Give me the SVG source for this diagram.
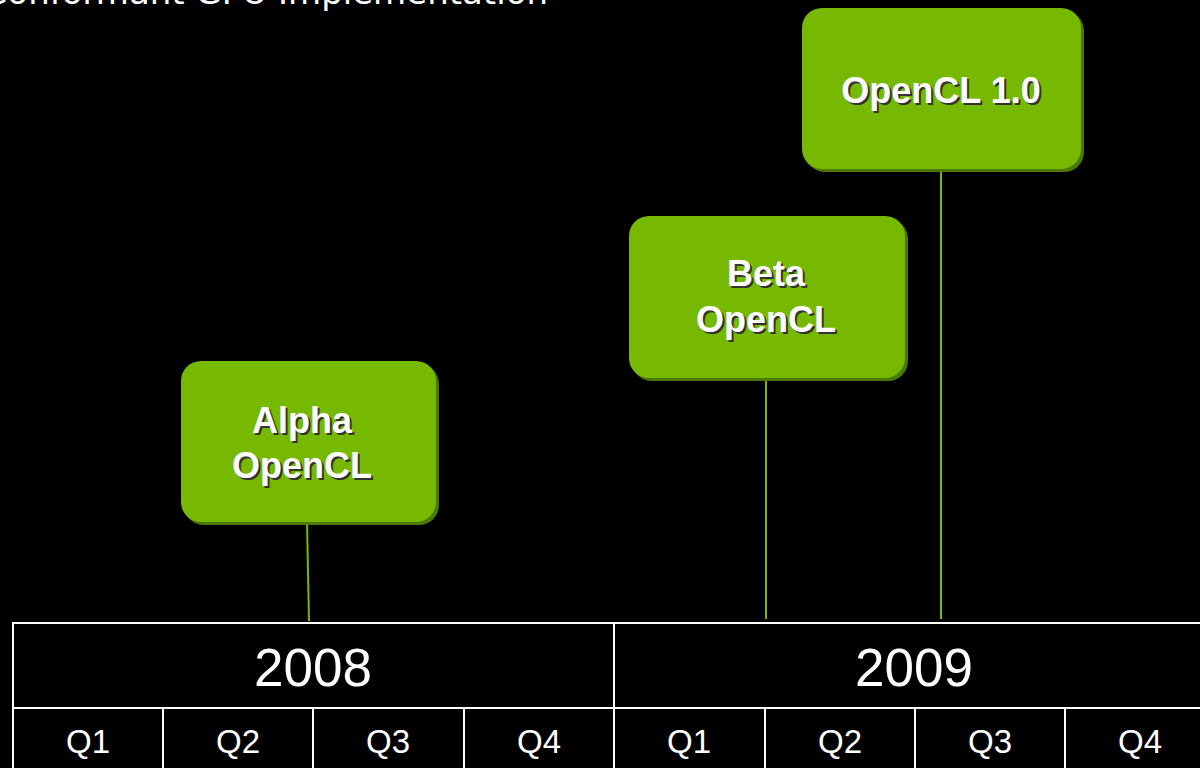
<svg xmlns="http://www.w3.org/2000/svg" width="1200" height="768" viewBox="0 0 1200 768">
<style>
.bg{fill:#000}
.box{fill:#76b900}
.sh{fill:#4a7800}
.lbl{font-family:"Liberation Sans",Arial,sans-serif;font-weight:bold;font-size:36px;text-anchor:middle;fill:#fff}
.lsh{font-family:"Liberation Sans",Arial,sans-serif;font-weight:bold;font-size:36px;text-anchor:middle;fill:#333}
.conn{stroke:#76b900;stroke-width:2;fill:none}
.grid{stroke:#fff;stroke-width:2;fill:none}
.yr{font-family:"Liberation Sans",Arial,sans-serif;font-size:53px;text-anchor:middle;fill:#fff}
.q{font-family:"Liberation Sans",Arial,sans-serif;font-size:33px;text-anchor:middle;fill:#fff}
.title{font-family:"DejaVu Sans",Verdana,sans-serif;font-size:34px;fill:#fff;text-anchor:end}
</style>
<rect class="bg" x="0" y="0" width="1200" height="768"/>
<text class="title" x="548" y="4">Conformant GPU Implementation</text>
<g id="connectors">
<line class="conn" x1="307" y1="522" x2="309" y2="621"/>
<line class="conn" x1="766" y1="378" x2="766" y2="619"/>
<line class="conn" x1="941" y1="169" x2="941" y2="619"/>
</g>
<g id="timeline">
<path class="grid" d="M13,768 V623 H1200 M13,708 H1200 M614,623 V768 M163,708 V768 M313,708 V768 M464,708 V768 M765,708 V768 M915,708 V768 M1065,708 V768"/>
<text class="yr" x="313" y="686">2008</text>
<text class="yr" x="914" y="686">2009</text>
<text class="q" x="88" y="753">Q1</text>
<text class="q" x="238" y="753">Q2</text>
<text class="q" x="388" y="753">Q3</text>
<text class="q" x="539" y="753">Q4</text>
<text class="q" x="689" y="753">Q1</text>
<text class="q" x="840" y="753">Q2</text>
<text class="q" x="990" y="753">Q3</text>
<text class="q" x="1140" y="753">Q4</text>
</g>
<g id="alpha">
<rect class="sh" x="184" y="364" width="255" height="161" rx="20"/>
<rect class="box" x="181" y="361" width="255" height="161" rx="20"/>
<text class="lsh" x="304" y="435">Alpha</text>
<text class="lbl" x="302" y="433">Alpha</text>
<text class="lsh" x="304" y="480">OpenCL</text>
<text class="lbl" x="302" y="478">OpenCL</text>
</g>
<g id="beta">
<rect class="sh" x="632" y="219" width="276" height="162" rx="20"/>
<rect class="box" x="629" y="216" width="276" height="162" rx="20"/>
<text class="lsh" x="768" y="288">Beta</text>
<text class="lbl" x="766" y="286">Beta</text>
<text class="lsh" x="768" y="334">OpenCL</text>
<text class="lbl" x="766" y="332">OpenCL</text>
</g>
<g id="opencl10">
<rect class="sh" x="805" y="11" width="279" height="161" rx="20"/>
<rect class="box" x="802" y="8" width="279" height="161" rx="20"/>
<text class="lsh" x="943" y="105">OpenCL 1.0</text>
<text class="lbl" x="941" y="103">OpenCL 1.0</text>
</g>
</svg>
